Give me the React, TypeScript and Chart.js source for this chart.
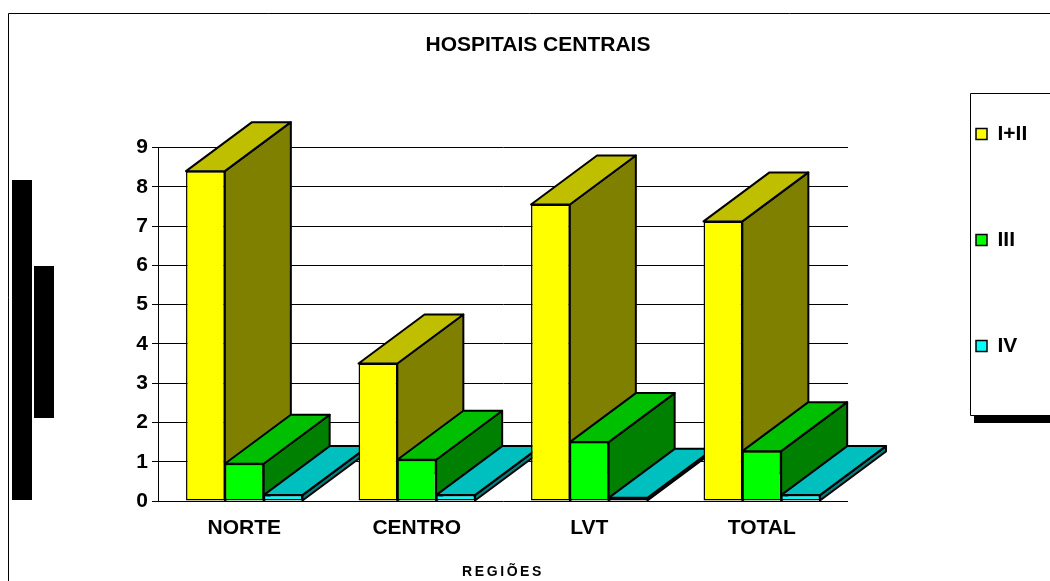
import React, { useEffect, useRef } from "react";
import { Chart, registerables } from "chart.js";

Chart.register(...registerables);

const categories = ["NORTE", "CENTRO", "LVT", "TOTAL"];
const seriesLabels = ["I+II", "III", "IV"];
const valuesI_II = [8.4, 3.5, 7.55, 7.12];
const valuesIII = [0.95, 1.05, 1.5, 1.27];
const valuesIV = [0.15, 0.15, 0.08, 0.15];
const frontColors = ["#FFFF00", "#00FF00", "#00FFFF"];
const topColors = ["#BFBF00", "#00BF00", "#00BFBF"];
const sideColors = ["#808000", "#008000", "#008080"];

const FONT = "'Liberation Sans', Arial, sans-serif";
const DEPTH_X = 66;
const DEPTH_Y = 49;
const LINE = 2;
const FRONT_LINE = 1.5;

function poly(ctx: CanvasRenderingContext2D, pts: number[][], fill: string) {
  ctx.beginPath();
  pts.forEach((p, i) => (i === 0 ? ctx.moveTo(p[0], p[1]) : ctx.lineTo(p[0], p[1])));
  ctx.closePath();
  ctx.fillStyle = fill;
  ctx.fill();
  ctx.stroke();
}

const decorations = {
  id: "decorations",
  afterLayout(chart: any) {
    const legend = chart.legend;
    const pad = legend.options.labels.padding;
    legend.left = 976 - pad;
    legend.top = 123.5 - pad;
    legend.right = 1050;
    legend.bottom = 581;
    const x = chart.scales.x;
    if (!x.__spaced) {
      x.__spaced = true;
      const orig = x.drawTitle;
      x.drawTitle = function (...args: any[]) {
        const c = this.ctx;
        c.letterSpacing = "2.6px";
        orig.apply(this, args);
        c.letterSpacing = "0px";
      };
    }
  },
  beforeDraw(chart: any) {
    const ctx = chart.ctx as CanvasRenderingContext2D;
    ctx.save();
    ctx.fillStyle = "#FFFFFF";
    ctx.fillRect(0, 0, 1050, 581);
    ctx.strokeStyle = "#000000";
    ctx.lineWidth = 1;
    ctx.beginPath();
    ctx.moveTo(8.5, 581);
    ctx.lineTo(8.5, 13.5);
    ctx.lineTo(1050, 13.5);
    ctx.stroke();
    ctx.fillStyle = "#000000";
    ctx.fillRect(12, 180, 20, 320);
    ctx.fillRect(34, 266, 20, 152);
    ctx.fillRect(974, 415, 76, 8);
    ctx.beginPath();
    ctx.moveTo(1050, 93.5);
    ctx.lineTo(970.5, 93.5);
    ctx.lineTo(970.5, 415.5);
    ctx.lineTo(1050, 415.5);
    ctx.stroke();
    ctx.restore();
  },
  beforeDatasetsDraw(chart: any) {
    const ctx = chart.ctx as CanvasRenderingContext2D;
    ctx.save();
    ctx.strokeStyle = "#000000";
    ctx.lineWidth = LINE;
    ctx.lineJoin = "round";
    categories.forEach((_, ci) => {
      seriesLabels.forEach((_s, si) => {
        const el = chart.getDatasetMeta(si).data[ci];
        const l = el.x - el.width / 2;
        const r = el.x + el.width / 2;
        const y = el.y;
        const b = el.base;
        poly(ctx, [[r, b], [r + DEPTH_X, b - DEPTH_Y], [r + DEPTH_X, y - DEPTH_Y], [r, y]], sideColors[si]);
        poly(ctx, [[l, y], [l + DEPTH_X, y - DEPTH_Y], [r + DEPTH_X, y - DEPTH_Y], [r, y]], topColors[si]);
      });
    });
    ctx.restore();
  },
};

export default function App() {
  const ref = useRef<HTMLCanvasElement>(null);
  useEffect(() => {
    const series = [valuesI_II, valuesIII, valuesIV];
    const chart = new Chart(ref.current as HTMLCanvasElement, {
      type: "bar",
      data: {
        labels: categories,
        datasets: seriesLabels.map((label, i) => ({
          label,
          data: series[i],
          backgroundColor: frontColors[i],
          borderColor: "#000000",
          borderWidth: FRONT_LINE,
          borderSkipped: false,
          categoryPercentage: 0.675,
          barPercentage: 1,
        })),
      },
      options: {
        responsive: false,
        animation: false,
        layout: { padding: { left: 98, right: 72, top: 0, bottom: 0 } },
        plugins: {
          tooltip: { enabled: false },
          title: {
            display: true,
            text: "HOSPITAIS CENTRAIS",
            color: "#000000",
            font: { family: FONT, size: 21, weight: "bold", lineHeight: 1.2 },
            padding: { top: 32.4, bottom: 90 },
          },
          legend: {
            display: true,
            position: "right",
            align: "start",
            maxWidth: 130,
            labels: {
              color: "#000000",
              boxWidth: 11,
              boxHeight: 11,
              padding: 85,
              font: { family: FONT, size: 21, weight: "bold", lineHeight: 1.2 },
            },
          },
        },
        scales: {
          x: {
            grid: { display: false },
            border: { display: false },
            ticks: {
              color: "#000000",
              padding: 7,
              maxRotation: 0,
              font: { family: FONT, size: 21, weight: "bold" },
            },
            title: {
              display: true,
              text: "REGIÕES",
              color: "#000000",
              padding: 0,
              font: { family: FONT, size: 14, weight: "bold", lineHeight: 1.2 },
            },
            afterFit: (s: any) => {
              s.height = 80;
            },
          },
          y: {
            min: 0,
            max: 9,
            grid: { color: "#000000", lineWidth: 1, tickLength: 6, tickColor: "#000000" },
            border: { display: true, color: "#000000", width: 1 },
            ticks: {
              stepSize: 1,
              color: "#000000",
              padding: 4,
              font: { family: FONT, size: 21, weight: "bold" },
            },
            afterFit: (s: any) => {
              s.width = 60;
            },
          },
        },
      } as any,
      plugins: [decorations as any],
    });
    return () => chart.destroy();
  }, []);
  return (
    <canvas
      ref={ref}
      width={1050}
      height={581}
      style={{ position: "fixed", left: 0, top: 0, display: "block" }}
    />
  );
}
